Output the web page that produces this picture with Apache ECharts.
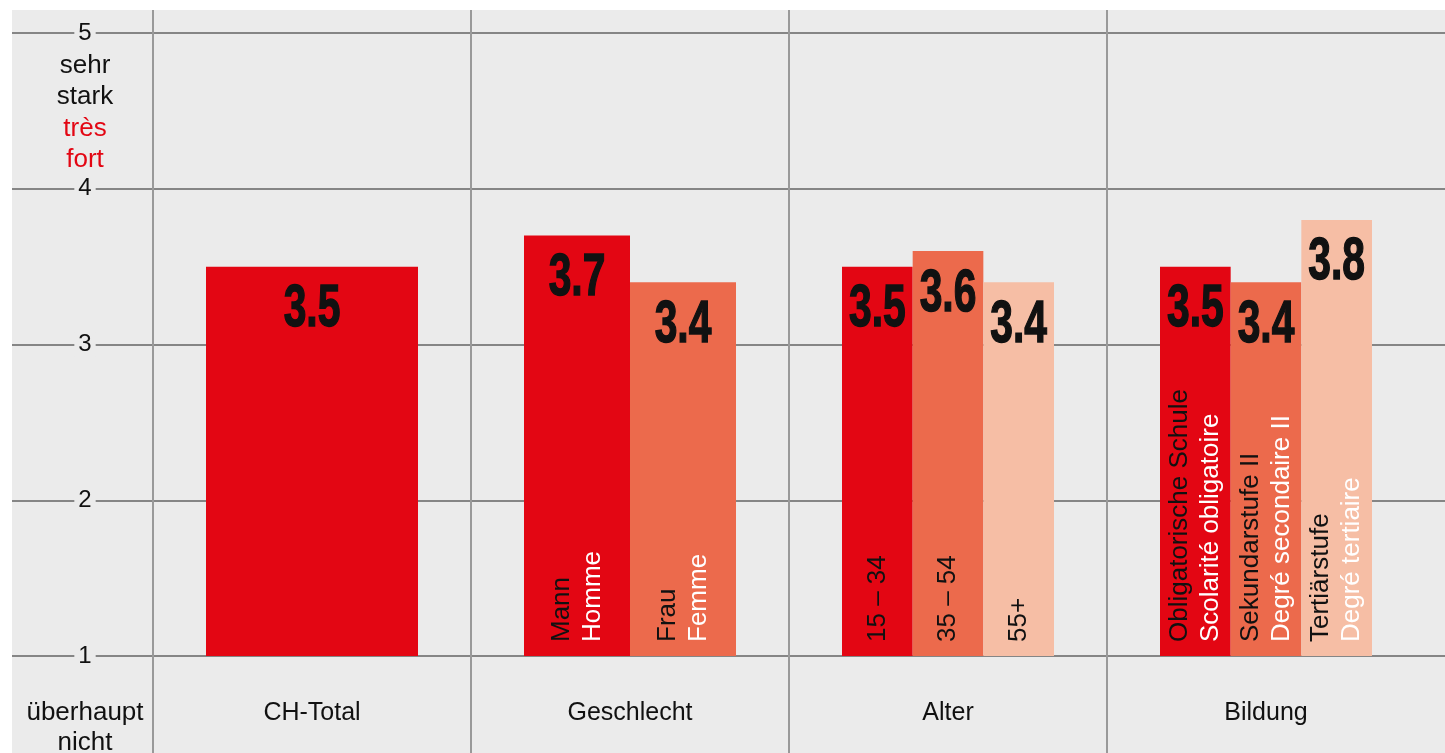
<!DOCTYPE html>
<html>
<head>
<meta charset="utf-8">
<title>Chart</title>
<script src="https://cdn.jsdelivr.net/npm/echarts@6/dist/echarts.min.js"></script>
<style>
html,body{margin:0;padding:0;background:#fff;}
#container{width:1445px;height:753px;}
</style>
</head>
<body>
<div id="container"></div>
<script>
// data
var groups = ['CH-Total', 'Geschlecht', 'Alter', 'Bildung'];
var totalNames = [[]];
var totalValues = [3.5];
var genderNames = [['Mann', 'Homme'], ['Frau', 'Femme']];
var genderValues = [3.7, 3.4];
var ageNames = [['15 – 34'], ['35 – 54'], ['55+']];
var ageValues = [3.5, 3.6, 3.4];
var eduNames = [['Obligatorische Schule', 'Scolarité obligatoire'], ['Sekundarstufe II', 'Degré secondaire II'], ['Tertiärstufe', 'Degré tertiaire']];
var eduValues = [3.5, 3.4, 3.8];
var yMin = 1, yMax = 5, yStep = 1;
var topNote = [['sehr', 'stark'], ['très', 'fort']];
var bottomNote = ['überhaupt', 'nicht'];

var groupNames = [totalNames, genderNames, ageNames, eduNames];
var groupValues = [totalValues, genderValues, ageValues, eduValues];

// layout
var plotLeft = 153, groupW = 318, barSpan = 212;
var plotTop = 33, plotBottom = 97;
var bgLeft = 12, bgTop = 10;
var shades = ['#e30613', '#ec6a4c', '#f6bea5'];
var font = 'Liberation Sans, Arial, sans-serif';

var myChart = echarts.init(document.getElementById('container'));

var grid = [
  {left: bgLeft, top: bgTop, right: 0, bottom: 0, show: true, backgroundColor: '#ebebeb', borderWidth: 0},
  {left: bgLeft, top: plotTop, right: 0, bottom: plotBottom},
  {left: plotLeft, top: bgTop, width: groupW * groups.length, bottom: 0}
];
var xAxis = [
  {gridIndex: 0, type: 'value', show: false},
  {gridIndex: 1, type: 'value', show: false},
  {
    gridIndex: 2, type: 'category', data: groups,
    axisLine: {show: false}, axisTick: {show: false},
    axisLabel: {inside: true, margin: 27, fontSize: 25, color: '#111', fontFamily: font},
    splitLine: {show: true, showMaxLine: false, lineStyle: {color: '#999', width: 2}}
  }
];
var yAxis = [
  {gridIndex: 0, type: 'value', show: false},
  {
    gridIndex: 1, type: 'value', min: yMin, max: yMax, interval: yStep,
    axisLine: {show: false}, axisTick: {show: false},
    axisLabel: {
      inside: true, margin: 73, align: 'center', fontSize: 24, color: '#111', fontFamily: font,
      backgroundColor: '#ebebeb', padding: [0, 4]
    },
    splitLine: {show: true, lineStyle: {color: '#858585', width: 2}}
  },
  {gridIndex: 2, type: 'value', show: false}
];
var series = [];

// condensed bold number, squeezed horizontally
function renderValue(params, api) {
  var pt = api.coord([api.value(0), api.value(1)]);
  return {
    type: 'text',
    x: pt[0], y: pt[1] + 43,
    scaleX: 0.68,
    style: {
      text: api.value(1).toFixed(1),
      fill: '#111',
      stroke: '#111', lineWidth: 1.5,
      font: 'bold 60px ' + font,
      align: 'center', verticalAlign: 'middle'
    }
  };
}

groupValues.forEach(function(values, g) {
  var gi = grid.length;
  var names = groupNames[g];
  grid.push({
    left: plotLeft + g * groupW + (groupW - barSpan) / 2,
    width: barSpan, top: plotTop, bottom: plotBottom
  });
  xAxis.push({
    gridIndex: gi, type: 'category', show: false,
    data: names.map(function(n) { return n.join(' '); })
  });
  yAxis.push({gridIndex: gi, type: 'value', min: yMin, max: yMax, show: false});

  // coloured bars, names written upward
  series.push({
    type: 'bar', xAxisIndex: gi, yAxisIndex: gi, silent: true,
    barCategoryGap: '0%',
    data: values.map(function(v, i) {
      return {value: v, itemStyle: {color: shades[i]}};
    }),
    label: {
      show: true, position: 'insideBottom', distance: 14, rotate: 90,
      align: 'left', verticalAlign: 'middle', textBorderWidth: 0,
      formatter: function(p) {
        var n = names[p.dataIndex];
        var out = [];
        if (n[0]) out.push('{de|' + n[0] + '}');
        if (n[1]) out.push('{fr|' + n[1] + '}');
        return out.join('\n');
      },
      rich: {
        de: {color: '#111', fontSize: 26, fontFamily: font, lineHeight: 31},
        fr: {color: '#fff', fontSize: 26, fontFamily: font, lineHeight: 31}
      }
    }
  });
  // value on top of each bar
  series.push({
    type: 'custom', xAxisIndex: gi, yAxisIndex: gi, silent: true, z: 5,
    data: values.map(function(v, i) { return [i, v]; }),
    renderItem: renderValue
  });
});

var option = {
  animation: false,
  backgroundColor: '#fff',
  grid: grid,
  xAxis: xAxis,
  yAxis: yAxis,
  series: series,
  graphic: [
    {type: 'text', x: 85, y: 81, silent: true,
      style: {text: topNote[0].join('\n'), fill: '#111', fontSize: 26, fontFamily: font, lineHeight: 31,
        align: 'center', verticalAlign: 'middle'}},
    {type: 'text', x: 85, y: 144, silent: true,
      style: {text: topNote[1].join('\n'), fill: '#e30613', fontSize: 26, fontFamily: font, lineHeight: 31,
        align: 'center', verticalAlign: 'middle'}},
    {type: 'text', x: 85, y: 728, silent: true,
      style: {text: bottomNote.join('\n'), fill: '#111', fontSize: 26, fontFamily: font, lineHeight: 30,
        align: 'center', verticalAlign: 'middle'}}
  ]
};
myChart.setOption(option);
</script>
</body>
</html>
